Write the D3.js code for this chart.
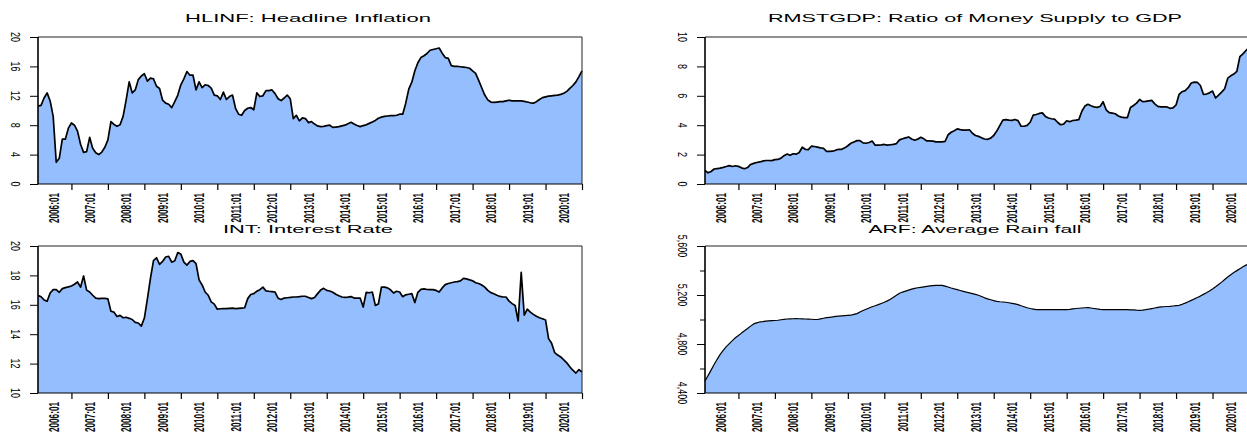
<!DOCTYPE html>
<html>
<head>
<meta charset="utf-8">
<script src="https://cdn.jsdelivr.net/npm/d3@7"></script>
<style>
  html, body { margin: 0; padding: 0; background: #fff; overflow: hidden; }
  svg { display: block; }
</style>
</head>
<body>
<svg id="chart" width="1247" height="433"></svg>
<script>
// Monthly observations, 2005:08 – 2020:07
const firstYear = 2005;
const firstMonth = 8;

const tickLabels = ["2006:01", "2007:01", "2008:01", "2009:01", "2010:01", "2011:01", "2012:01",
  "2013:01", "2014:01", "2015:01", "2016:01", "2017:01", "2018:01", "2019:01", "2020:01"];

// HLINF: headline inflation (%)
const hlinf = [
  10.6, 10.7, 11.7, 12.4, 11.3, 9.2, 2.95, 3.5, 6.1, 6.1,
  7.6, 8.3, 8.0, 7.2, 5.4, 4.3, 4.4, 6.35, 4.85, 4.25,
  4.0, 4.35, 5.0, 6.0, 8.5, 8.1, 7.85, 8.05, 9.2, 11.4,
  13.9, 12.4, 12.8, 14.2, 14.7, 15.0, 14.0, 14.4, 14.3, 13.3,
  13.0, 11.4, 11.0, 10.85, 10.4, 11.2, 12.1, 13.5, 14.3, 15.3,
  14.8, 14.8, 12.8, 13.9, 13.1, 13.5, 13.4, 13.05, 12.1, 12.0,
  11.5, 12.5, 11.5, 11.9, 12.1, 10.3, 9.5, 9.35, 10.0, 10.3,
  10.4, 10.1, 12.4, 11.9, 12.0, 12.7, 12.7, 12.8, 12.3, 11.6,
  11.35, 11.7, 12.1, 11.6, 8.9, 9.35, 8.6, 9.0, 8.9, 8.35,
  8.5, 8.15, 7.9, 7.8, 7.85, 7.95, 8.0, 7.7, 7.75, 7.8,
  7.9, 8.0, 8.2, 8.4, 8.15, 7.95, 7.8, 7.95, 8.05, 8.25,
  8.45, 8.65, 8.95, 9.1, 9.2, 9.25, 9.3, 9.3, 9.35, 9.5,
  9.5, 11.0, 12.9, 13.85, 15.4, 16.5, 17.2, 17.45, 17.75, 18.2,
  18.3, 18.4, 18.5, 17.8, 17.2, 17.1, 16.1, 16.0, 16.0, 15.95,
  15.9, 15.85, 15.75, 15.4, 15.05, 14.1, 13.1, 12.1, 11.45, 11.15,
  11.1, 11.15, 11.2, 11.2, 11.3, 11.4, 11.3, 11.3, 11.3, 11.3,
  11.25, 11.15, 11.05, 11.0, 11.2, 11.5, 11.75, 11.85, 11.95, 12.0,
  12.05, 12.1, 12.2, 12.35, 12.6, 13.0, 13.4, 13.9, 14.6, 15.4
];

// RMSTGDP: ratio of money supply to GDP
const rmstgdp = [
  0.93, 0.76, 0.85, 1.02, 1.05, 1.08, 1.13, 1.19, 1.25, 1.19,
  1.24, 1.2, 1.1, 1.04, 1.12, 1.33, 1.4, 1.46, 1.5, 1.56,
  1.6, 1.6, 1.59, 1.66, 1.67, 1.76, 1.93, 2.04, 1.95, 2.06,
  2.03, 2.14, 2.5, 2.36, 2.34, 2.57, 2.55, 2.51, 2.46, 2.43,
  2.22, 2.22, 2.23, 2.3, 2.36, 2.36, 2.46, 2.6, 2.77, 2.86,
  2.95, 2.95, 2.8, 2.77, 2.82, 2.92, 2.64, 2.64, 2.66, 2.69,
  2.64, 2.67, 2.7, 2.75, 3.0, 3.08, 3.14, 3.2, 3.06, 2.98,
  3.05, 3.18, 3.07, 2.93, 2.93, 2.92, 2.87, 2.86, 2.86, 2.9,
  3.35, 3.52, 3.62, 3.75, 3.7, 3.66, 3.66, 3.69, 3.45, 3.3,
  3.24, 3.14, 3.06, 3.04, 3.12, 3.3, 3.6, 3.97, 4.34, 4.38,
  4.34, 4.33, 4.39, 4.31, 3.93, 3.93, 3.99, 4.2, 4.69, 4.73,
  4.8, 4.84, 4.6, 4.49, 4.44, 4.41, 4.2, 4.03, 4.07, 4.3,
  4.24, 4.32, 4.34, 4.38, 4.95, 5.3, 5.42, 5.32, 5.25, 5.21,
  5.27, 5.59, 5.05, 4.86, 4.82, 4.78, 4.63, 4.55, 4.52, 4.52,
  5.2, 5.34, 5.5, 5.75, 5.6, 5.62, 5.66, 5.69, 5.45, 5.28,
  5.25, 5.25, 5.24, 5.15, 5.18, 5.38, 6.1, 6.28, 6.35, 6.55,
  6.87, 6.93, 6.92, 6.7, 6.1, 6.12, 6.2, 6.32, 5.85, 6.05,
  6.25, 6.48, 7.2, 7.36, 7.48, 7.66, 8.66, 8.85, 9.08, 9.3
];

// INT: interest rate (%)
const intRate = [
  16.64, 16.55, 16.33, 16.24, 16.8, 17.03, 17.03, 16.85, 17.1, 17.17,
  17.22, 17.28, 17.4, 17.55, 17.2, 17.96, 17.0, 16.87, 16.65, 16.45,
  16.42, 16.44, 16.44, 16.4, 15.56, 15.5, 15.2, 15.28, 15.12, 15.15,
  15.08, 15.0, 14.8, 14.76, 14.55, 15.1, 16.4, 17.8, 19.0, 19.2,
  18.75, 18.95, 19.25, 19.3, 18.9, 19.0, 19.55, 19.45, 18.9, 18.7,
  18.95, 19.0, 18.8, 17.7, 17.35, 16.87, 16.65, 16.2, 16.05, 15.7,
  15.73, 15.74, 15.74, 15.76, 15.77, 15.74, 15.76, 15.78, 15.8, 16.42,
  16.7, 16.76, 16.92, 17.03, 17.2, 16.95, 16.92, 16.9, 16.87, 16.45,
  16.36, 16.46, 16.48, 16.5, 16.53, 16.53, 16.55, 16.58, 16.58, 16.5,
  16.42, 16.5, 16.76, 17.0, 17.12, 16.98, 16.94, 16.85, 16.72, 16.62,
  16.53, 16.5, 16.52, 16.56, 16.46, 16.46, 16.46, 15.85, 16.85, 16.82,
  16.87, 15.96, 16.05, 17.2, 17.2, 17.15, 17.02, 16.8, 16.92, 16.87,
  16.55, 16.68, 16.72, 16.76, 16.15, 16.85, 17.05, 17.08, 17.04, 17.03,
  17.03, 16.98, 16.87, 17.15, 17.37, 17.45, 17.5, 17.55, 17.58, 17.63,
  17.8, 17.76, 17.7, 17.63, 17.5, 17.45, 17.35, 17.2, 16.98, 16.83,
  16.75, 16.65, 16.57, 16.53, 16.53, 16.25, 16.08, 15.95, 14.9, 18.2,
  15.3, 15.7, 15.5, 15.35, 15.22, 15.12, 15.05, 14.97, 13.7, 13.38,
  12.75, 12.58, 12.45, 12.25, 12.05, 11.78, 11.55, 11.36, 11.59, 11.43
];

// ARF: average rainfall
const arf = [
  4498, 4542, 4587, 4632, 4675, 4715, 4748, 4778, 4803, 4828,
  4851, 4869, 4889, 4908, 4927, 4946, 4964, 4972, 4980, 4983,
  4987, 4989, 4991, 4992, 4994, 4998, 5001, 5004, 5005, 5006,
  5007, 5006, 5005, 5004, 5003, 5002, 5000, 5000, 5005, 5010,
  5015, 5018, 5021, 5025, 5027, 5029, 5031, 5033, 5035, 5042,
  5048, 5061, 5074, 5084, 5094, 5104, 5112, 5121, 5131, 5141,
  5152, 5166, 5182, 5198, 5214, 5224, 5232, 5240, 5248, 5254,
  5259, 5263, 5267, 5271, 5274, 5277, 5279, 5279, 5279, 5273,
  5265, 5257, 5250, 5244, 5237, 5230, 5223, 5217, 5211, 5205,
  5198, 5188, 5177, 5168, 5161, 5154, 5148, 5145, 5143, 5141,
  5137, 5132, 5127, 5121, 5112, 5104, 5096, 5090, 5085, 5080,
  5080, 5080, 5080, 5080, 5080, 5080, 5080, 5080, 5080, 5080,
  5083, 5087, 5090, 5092, 5094, 5096, 5097, 5094, 5090, 5086,
  5083, 5081, 5080, 5080, 5080, 5080, 5080, 5080, 5080, 5080,
  5079, 5078, 5076, 5075, 5077, 5080, 5084, 5089, 5094, 5099,
  5103, 5104, 5106, 5107, 5110, 5113, 5116, 5124, 5134, 5145,
  5156, 5168, 5179, 5191, 5205, 5218, 5232, 5249, 5267, 5286,
  5305, 5326, 5347, 5366, 5383, 5399, 5415, 5430, 5444, 5455
];

const hlinfTicks = [0, 4, 8, 12, 16, 20];
const rmstgdpTicks = [0, 2, 4, 6, 8, 10];
const intTicks = [10, 12, 14, 16, 18, 20];
const arfTicks = [4400, 4800, 5200, 5600];
const arfMinorTicks = [4600, 5000, 5400];

// Panel layout
const panels = [
  { title: "HLINF: Headline Inflation", values: hlinf, domain: [0, 20], ticks: hlinfTicks, minor: [],
    fmt: d3.format("d"), left: 38, right: 582, top: 37, bottom: 184, titleW: 246, titleY: 22, lw: 1.7 },
  { title: "RMSTGDP: Ratio of Money Supply to GDP", values: rmstgdp, domain: [0, 10], ticks: rmstgdpTicks, minor: [],
    fmt: d3.format("d"), left: 705, right: 1249, top: 37, bottom: 184, titleW: 414, titleY: 22, lw: 1.7 },
  { title: "INT: Interest Rate", values: intRate, domain: [10, 20], ticks: intTicks, minor: [],
    fmt: d3.format("d"), left: 38, right: 582, top: 246, bottom: 393, titleW: 170, titleY: 233, lw: 1.7 },
  { title: "ARF: Average Rain fall", values: arf, domain: [4400, 5600], ticks: arfTicks, minor: arfMinorTicks,
    fmt: d3.format(","), left: 705, right: 1249, top: 246, bottom: 393, titleW: 213, titleY: 233, lw: 1.2 }
];

const svg = d3.select("#chart");
const fillColor = "#94befe";
const font = "'Liberation Sans', Arial, sans-serif";

const monthIndex = lab => {
  const [y, m] = lab.split(":").map(Number);
  return (y - firstYear) * 12 + (m - firstMonth);
};

panels.forEach(p => {
  const n = p.values.length;
  const x = d3.scaleLinear().domain([0, n - 1]).range([p.left, p.right]);
  const y = d3.scaleLinear().domain(p.domain).range([p.bottom, p.top]);
  const g = svg.append("g");

  const area = d3.area()
    .x((d, i) => x(i))
    .y0(p.bottom)
    .y1(d => y(d));
  const line = d3.line()
    .x((d, i) => x(i))
    .y(d => y(d));

  g.append("path").datum(p.values)
    .attr("d", area)
    .attr("fill", fillColor);

  g.append("path").datum(p.values)
    .attr("d", line)
    .attr("fill", "none")
    .attr("stroke", "#000")
    .attr("stroke-width", p.lw)
    .attr("stroke-linejoin", "round");

  // frame: thin top/right borders, heavier left/bottom axes
  g.append("line").attr("x1", p.left).attr("x2", p.right).attr("y1", p.top).attr("y2", p.top)
    .attr("stroke", "#222").attr("stroke-width", 1);
  g.append("line").attr("x1", p.right).attr("x2", p.right).attr("y1", p.top).attr("y2", p.bottom)
    .attr("stroke", "#222").attr("stroke-width", 1);
  g.append("line").attr("x1", p.left).attr("x2", p.right).attr("y1", p.bottom).attr("y2", p.bottom)
    .attr("stroke", "#000").attr("stroke-width", 1);
  g.append("line").attr("x1", p.left).attr("x2", p.left).attr("y1", p.top).attr("y2", p.bottom)
    .attr("stroke", "#000").attr("stroke-width", 1.6);

  // x axis: ticks between the yearly labels
  const labelIdx = tickLabels.map(monthIndex);
  const tickIdx = labelIdx.map(i => i + 6).filter(i => i <= n - 1);
  const xAxis = d3.axisBottom(x).tickValues(tickIdx).tickFormat("").tickSize(6).tickSizeOuter(0);
  const gx = g.append("g").attr("transform", `translate(0,${p.bottom})`).call(xAxis);
  gx.select(".domain").remove();
  gx.selectAll(".tick line").attr("stroke", "#000").attr("stroke-width", 1.2);

  g.selectAll(null).data(tickLabels).enter().append("text")
    .attr("transform", d => `translate(${x(monthIndex(d))},${p.bottom + 9}) scale(1.8,1) rotate(-90)`)
    .attr("text-anchor", "end")
    .attr("dy", "0.36em")
    .attr("font-family", font)
    .attr("font-size", 8.2)
    .attr("font-weight", "bold")
    .attr("fill", "#111")
    .text(d => d);

  // y axis
  const yAxis = d3.axisLeft(y).tickValues(p.ticks).tickFormat("").tickSize(8).tickSizeOuter(0);
  const gy = g.append("g").attr("transform", `translate(${p.left},0)`).call(yAxis);
  gy.select(".domain").remove();
  gy.selectAll(".tick line").attr("stroke", "#000").attr("stroke-width", 1);
  if (p.minor.length) {
    const yMinor = d3.axisLeft(y).tickValues(p.minor).tickFormat("").tickSize(5).tickSizeOuter(0);
    const gm = g.append("g").attr("transform", `translate(${p.left},0)`).call(yMinor);
    gm.select(".domain").remove();
    gm.selectAll(".tick line").attr("stroke", "#000").attr("stroke-width", 1);
  }
  g.selectAll(null).data(p.ticks).enter().append("text")
    .attr("transform", d => `translate(${p.left - 22},${y(d)}) scale(1.5,1) rotate(90)`)
    .attr("text-anchor", "middle")
    .attr("dy", "0.36em")
    .attr("font-family", font)
    .attr("font-size", 9)
    .attr("fill", "#000")
    .text(d => p.fmt(d));

  // title
  g.append("text")
    .attr("x", (p.left + p.right) / 2 - 2 - p.titleW / 2)
    .attr("y", p.titleY)
    .attr("textLength", p.titleW)
    .attr("lengthAdjust", "spacingAndGlyphs")
    .attr("font-family", font)
    .attr("font-size", 11.5)
    .attr("fill", "#000")
    .text(p.title);
});
</script>
</body>
</html>
